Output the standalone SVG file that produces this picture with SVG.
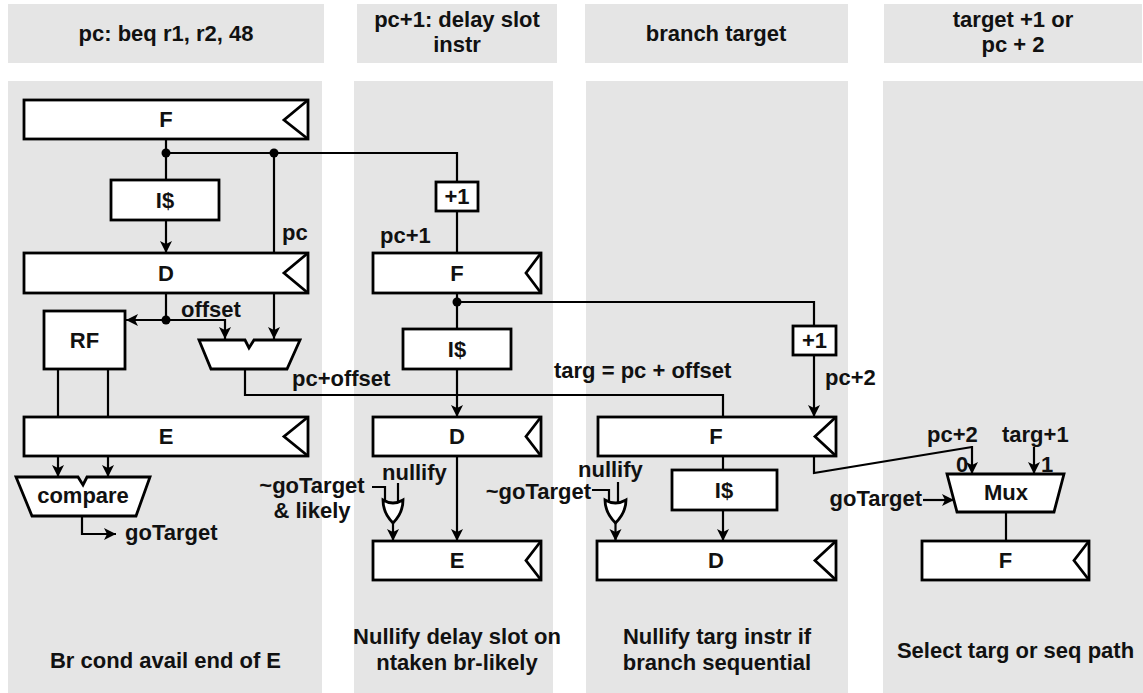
<svg xmlns="http://www.w3.org/2000/svg" width="1143" height="693" viewBox="0 0 1143 693">
<style>
.panel{fill:#e5e5e5}
.box{fill:#fff;stroke:#000;stroke-width:2.8}
.clk{fill:none;stroke:#000;stroke-width:2.8;stroke-linejoin:miter}
.wire{fill:none;stroke:#000;stroke-width:2.2}
.arr{marker-end:url(#ah)}
.dot{fill:#000}
text{font-family:"Liberation Sans",Arial,Helvetica,sans-serif;font-weight:bold;font-size:22px;fill:#111}
.c{text-anchor:middle}
.e{text-anchor:end}
</style>
<defs>
<marker id="ah" markerUnits="userSpaceOnUse" markerWidth="14" markerHeight="14" refX="12" refY="6.5" orient="auto">
<path d="M0,0.5 L12,6.5 L0,12.5 L3,6.5 z" fill="#000"/>
</marker>
</defs>
<g id="panels">
<rect class="panel" x="8" y="4" width="316" height="59"/>
<rect class="panel" x="357" y="4" width="200" height="59"/>
<rect class="panel" x="585" y="4" width="263" height="59"/>
<rect class="panel" x="884" y="4" width="258" height="59"/>
<rect class="panel" x="8" y="81" width="314" height="612"/>
<rect class="panel" x="354" y="81" width="199" height="612"/>
<rect class="panel" x="586" y="81" width="262" height="612"/>
<rect class="panel" x="883" y="81" width="260" height="612"/>
</g>
<g id="headers">
<text class="c" x="166" y="41">pc: beq r1, r2, 48</text>
<text class="c" x="457" y="27">pc+1: delay slot</text>
<text class="c" x="457" y="52">instr</text>
<text class="c" x="716" y="41">branch target</text>
<text class="c" x="1013" y="27">target +1 or</text>
<text class="c" x="1013" y="52">pc + 2</text>
</g>
<g id="connectors">
<path class="wire" d="M166,139 V180"/>
<path class="wire arr" d="M166,220 V253"/>
<path class="wire" d="M166,153 H457 V182"/>
<path class="wire" d="M274,153 V253"/>
<path class="wire arr" d="M274,293 V339"/>
<path class="wire" d="M166,293 V320"/>
<path class="wire arr" d="M166,320 H126"/>
<path class="wire arr" d="M166,320 H225 V339"/>
<path class="wire" d="M58,369 V417"/>
<path class="wire" d="M108,369 V417"/>
<path class="wire arr" d="M58,456 V477"/>
<path class="wire arr" d="M108,456 V477"/>
<path class="wire arr" d="M82,516 V534 H116"/>
<path class="wire" d="M245,369 V395 H723 V417"/>
<path class="wire" d="M457,211 V253"/>
<path class="wire" d="M457,293 V329"/>
<path class="wire" d="M457,302 H814 V326"/>
<path class="wire arr" d="M457,369 V417"/>
<path class="wire arr" d="M457,456 V541"/>
<path class="wire" d="M372,487 H385 V502"/>
<path class="wire" d="M398,483 V502"/>
<path class="wire arr" d="M393,523 V541"/>
<path class="wire arr" d="M814,355 V417"/>
<path class="wire" d="M723,456 V470"/>
<path class="wire arr" d="M723,510 V541"/>
<path class="wire" d="M592,490 H609 V502"/>
<path class="wire" d="M618,482 V502"/>
<path class="wire arr" d="M615.5,523 V541"/>
<path class="wire" d="M814,456 V473 L972,447"/>
<path class="wire arr" d="M972,446 V474"/>
<path class="wire arr" d="M1034,447 V474"/>
<path class="wire arr" d="M923,500 H954"/>
<path class="wire" d="M1006,512 V541"/>
<circle class="dot" cx="166" cy="153" r="4.5"/>
<circle class="dot" cx="274" cy="153" r="4.5"/>
<circle class="dot" cx="166" cy="320" r="4.5"/>
<circle class="dot" cx="457" cy="302" r="4.5"/>
</g>
<g id="c1-F">
<rect class="box" x="24" y="100" width="284" height="39"/>
<polyline class="clk" points="308,100 284,120 308,139"/>
<text class="c" x="166" y="127">F</text>
</g>
<g id="c1-I">
<rect class="box" x="111" y="180" width="108" height="40"/>
<text class="c" x="165" y="208">I$</text>
</g>
<g id="c1-D">
<rect class="box" x="24" y="253" width="284" height="40"/>
<polyline class="clk" points="308,253 284,273 308,293"/>
<text class="c" x="166" y="281">D</text>
</g>
<g id="c1-RF">
<rect class="box" x="44" y="311" width="81" height="58"/>
<text class="c" x="84.5" y="348">RF</text>
</g>
<g id="c1-adder">
<polygon class="box" points="199,340 245,340 249,348 254,340 300,340 287,369 211,369"/>
</g>
<g id="c1-E">
<rect class="box" x="24" y="417" width="284" height="39"/>
<polyline class="clk" points="308,417 284,436.5 308,456"/>
<text class="c" x="166" y="444">E</text>
</g>
<g id="c1-compare">
<polygon class="box" points="16,477 78,477 83,485 87,477 150,477 136,516 32,516"/>
<text class="c" x="83" y="503">compare</text>
</g>
<g id="c2-plus1">
<rect class="box" x="436" y="182" width="42" height="29"/>
<text class="c" x="457" y="204">+1</text>
</g>
<g id="c2-F">
<rect class="box" x="373" y="253" width="168" height="40"/>
<polyline class="clk" points="541,253 526,273 541,293"/>
<text class="c" x="457" y="281">F</text>
</g>
<g id="c2-I">
<rect class="box" x="403" y="329" width="108" height="40"/>
<text class="c" x="457" y="357">I$</text>
</g>
<g id="c2-D">
<rect class="box" x="373" y="417" width="168" height="39"/>
<polyline class="clk" points="541,417 526,436.5 541,456"/>
<text class="c" x="457" y="444">D</text>
</g>
<g id="c2-or">
<path class="box" d="M383,500 Q393,506 403,500 C403,510 399,517 393,523 C387,517 383,510 383,500 Z"/>
</g>
<g id="c2-E">
<rect class="box" x="373" y="541" width="168" height="39"/>
<polyline class="clk" points="541,541 526,560.5 541,580"/>
<text class="c" x="457" y="568">E</text>
</g>
<g id="c3-plus1">
<rect class="box" x="793" y="326" width="43" height="29"/>
<text class="c" x="814.5" y="348">+1</text>
</g>
<g id="c3-F">
<rect class="box" x="598" y="417" width="238" height="39"/>
<polyline class="clk" points="836,417 815,436.5 836,456"/>
<text class="c" x="716" y="444">F</text>
</g>
<g id="c3-I">
<rect class="box" x="672" y="470" width="105" height="40"/>
<text class="c" x="724" y="498">I$</text>
</g>
<g id="c3-or">
<path class="box" d="M605,500 Q615.5,506 626,500 C626,510 621.5,517 615.5,523 C609.5,517 605,510 605,500 Z"/>
</g>
<g id="c3-D">
<rect class="box" x="597" y="541" width="239" height="39"/>
<polyline class="clk" points="836,541 815,560.5 836,580"/>
<text class="c" x="716" y="568">D</text>
</g>
<g id="c4-mux">
<polygon class="box" points="947,474 1064,474 1054,512 957,512"/>
<text class="c" x="1006" y="500">Mux</text>
</g>
<g id="c4-F">
<rect class="box" x="922" y="541" width="167" height="39"/>
<polyline class="clk" points="1089,541 1074,560.5 1089,580"/>
<text class="c" x="1005.5" y="568">F</text>
</g>
<g id="labels">
<text x="282" y="240">pc</text>
<text x="181" y="317">offset</text>
<text x="292" y="386">pc+offset</text>
<text x="125" y="540">goTarget</text>
<text class="c" x="312" y="493">~goTarget</text>
<text class="c" x="312" y="518">&amp; likely</text>
<text x="380" y="243">pc+1</text>
<text x="554" y="378">targ = pc + offset</text>
<text x="382" y="480">nullify</text>
<text x="825" y="385">pc+2</text>
<text x="578" y="477">nullify</text>
<text class="e" x="591" y="499">~goTarget</text>
<text x="927" y="442">pc+2</text>
<text x="1002" y="442">targ+1</text>
<text x="956" y="472">0</text>
<text x="1041" y="472">1</text>
<text class="e" x="922" y="506">goTarget</text>
</g>
<g id="footers">
<text class="c" x="165.5" y="668">Br cond avail end of E</text>
<text class="c" x="457" y="644">Nullify delay slot on</text>
<text class="c" x="457" y="670">ntaken br-likely</text>
<text class="c" x="717" y="644">Nullify targ instr if</text>
<text class="c" x="717" y="670">branch sequential</text>
<text class="c" x="1015.5" y="658">Select targ or seq path</text>
</g>
</svg>
